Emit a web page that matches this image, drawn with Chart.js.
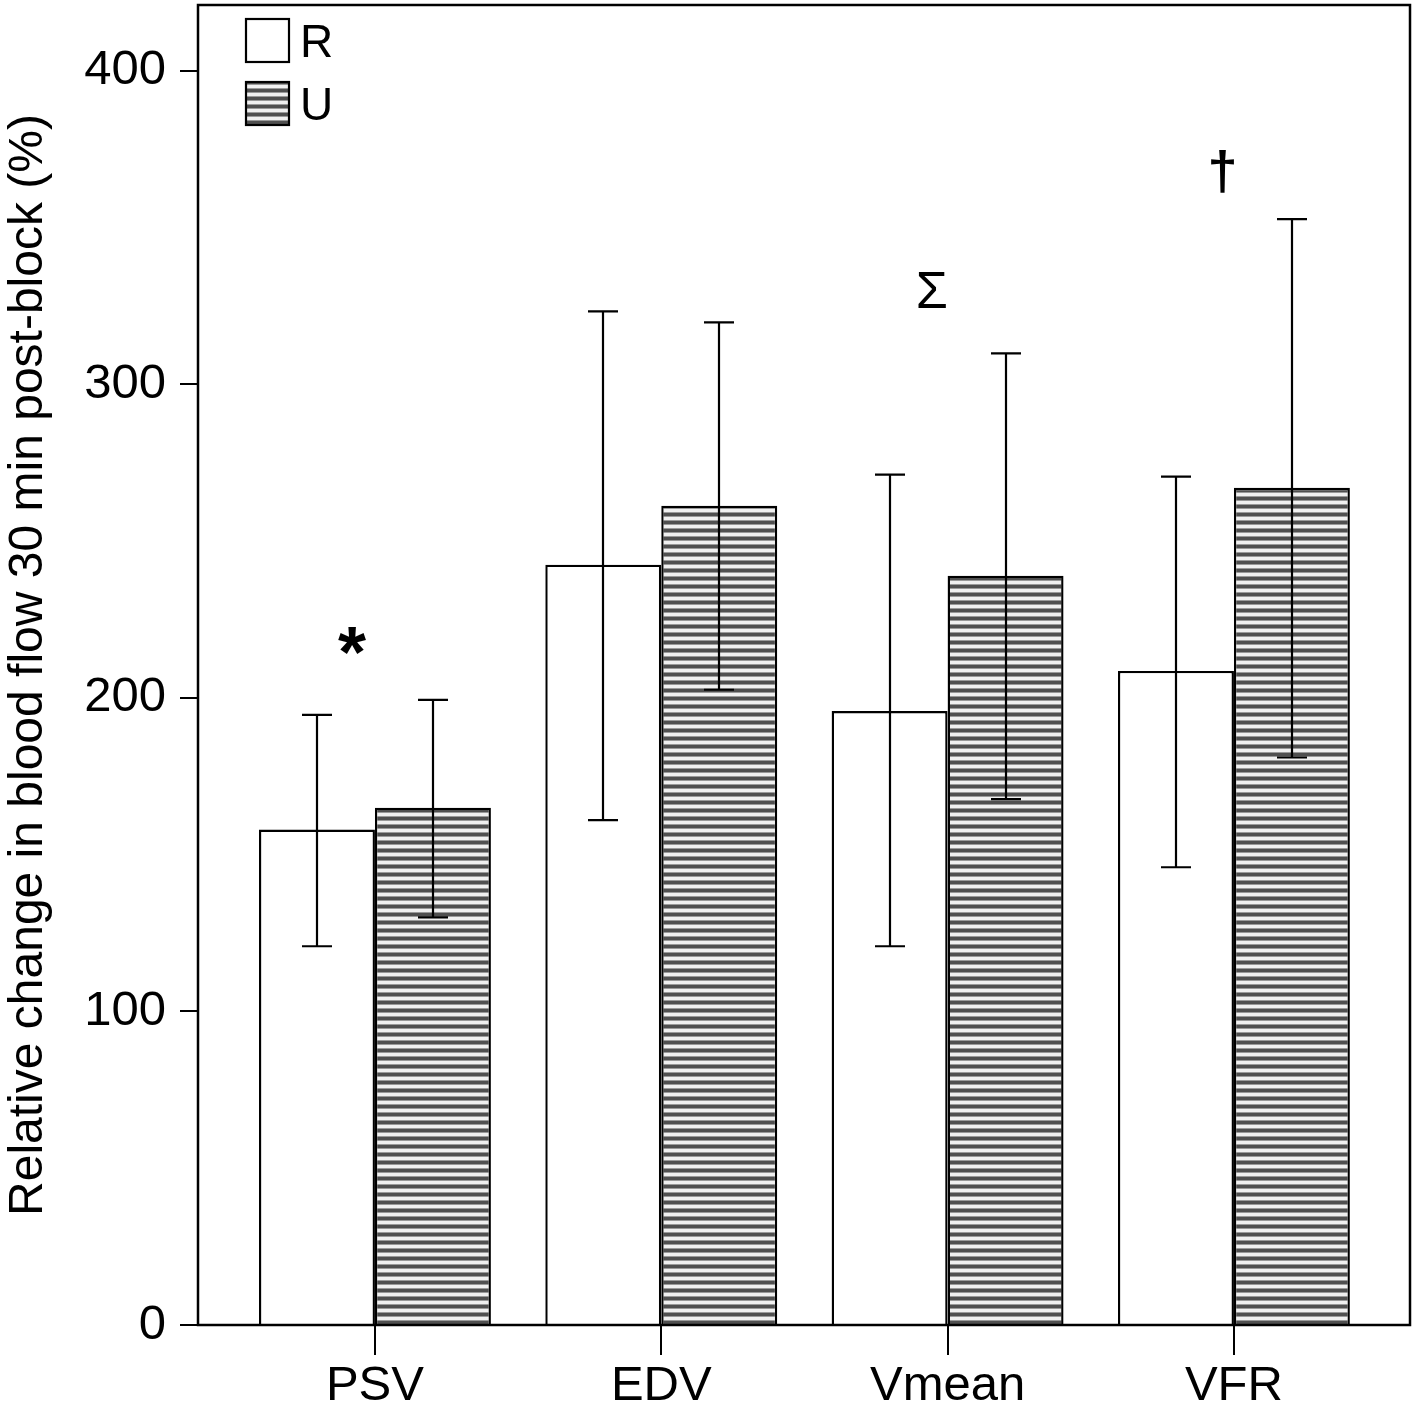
<!DOCTYPE html>
<html>
<head>
<meta charset="utf-8">
<script src="https://cdn.jsdelivr.net/npm/chart.js@4.4.0/dist/chart.umd.min.js"></script>
<style>
  html, body { margin: 0; padding: 0; background: #fff; }
  #wrap { width: 1418px; height: 1413px; position: relative; }
</style>
</head>
<body>
<div id="wrap"><canvas id="blood-flow-chart"></canvas></div>
<script>
// Chart data
var categories = ['PSV', 'EDV', 'Vmean', 'VFR'];
var meanR = [158, 242.5, 195.8, 208.6];
var meanU = [165, 261.3, 239, 267];
var upperR = [194.6, 323.3, 271.2, 270.6];
var lowerR = [120.8, 161, 120.8, 146];
var upperU = [199.4, 319.8, 309.9, 352.7];
var lowerU = [130, 202.6, 167.7, 181];
var yTicks = [0, 100, 200, 300, 400];
// significance marks: symbol, category index, value
var marks = [['*', 0, 217], ['\u03A3', 2, 329], ['\u2020', 3, 367]];

var FONT = "'Liberation Sans', Arial, sans-serif";

// horizontal hatch for the U bars
function makeHatch() {
    var c = document.createElement('canvas');
    c.width = 8; c.height = 8;
    var g = c.getContext('2d');
    g.fillStyle = '#f0f0f0';
    g.fillRect(0, 0, 8, 8);
    g.fillStyle = '#9a9a9a';
    g.fillRect(0, 0, 8, 5);
    g.fillStyle = '#505050';
    g.fillRect(0, 1, 8, 3);
    return g.createPattern(c, 'repeat');
}
var hatch = makeHatch();

function toPoints(arr) {
    return arr.map(function (v, i) { return { x: i + 1, y: v }; });
}

function noPad(s) {
    s.paddingTop = 0; s.paddingBottom = 0;
    s.paddingLeft = 0; s.paddingRight = 0;
}

// error bars, frame, marks and legend
var extras = {
    id: 'extras',
    afterDatasetsDraw: function (chart) {
        var c = chart.ctx, xs = chart.scales.x, ys = chart.scales.y, a = chart.chartArea;
        c.save();
        c.strokeStyle = '#000';
        c.lineWidth = 2.2;
        [[upperR, lowerR, 0], [upperU, lowerU, 1]].forEach(function (set) {
            var meta = chart.getDatasetMeta(set[2]);
            meta.data.forEach(function (bar, i) {
                var x = Math.round(bar.x);
                var t = ys.getPixelForValue(set[0][i]);
                var b = ys.getPixelForValue(set[1][i]);
                c.beginPath();
                c.moveTo(x, t); c.lineTo(x, b);
                c.moveTo(x - 15, t); c.lineTo(x + 15, t);
                c.moveTo(x - 15, b); c.lineTo(x + 15, b);
                c.stroke();
            });
        });
        // frame
        c.lineWidth = 2.5;
        c.strokeRect(a.left, a.top, a.right - a.left, a.bottom - a.top);
        // marks
        c.fillStyle = '#000';
        c.textAlign = 'center';
        c.textBaseline = 'middle';
        var offs = [-0.08, -0.055, -0.04];
        var fonts = ['bold 72px ', '52px ', 'bold 54px '];
        var dy = [13, 0, 0];
        marks.forEach(function (m, k) {
            var x = xs.getPixelForValue(m[1] + 1 + offs[k]);
            var y = ys.getPixelForValue(m[2]);
            c.font = fonts[k] + FONT;
            c.fillText(m[0], x, y + dy[k]);
        });
        // legend
        var lx = a.left + 48, ly = a.top + 14;
        chart.data.datasets.forEach(function (ds, i) {
            var y = ly + i * 63;
            c.fillStyle = ds.backgroundColor;
            c.fillRect(lx, y, 43, 43);
            c.lineWidth = 2.2;
            c.strokeStyle = '#000';
            c.strokeRect(lx, y, 43, 43);
            c.fillStyle = '#000';
            c.textAlign = 'left';
            c.font = '46px ' + FONT;
            c.fillText(ds.label, lx + 54, y + 25);
        });
        c.restore();
    }
};

var ctx = document.getElementById('blood-flow-chart');

var config = {
    type: 'bar',
    data: {
        datasets: [{
            label: 'R',
            data: toPoints(meanR),
            backgroundColor: '#ffffff',
            borderColor: '#000',
            borderWidth: 2.4
        }, {
            label: 'U',
            data: toPoints(meanU),
            backgroundColor: hatch,
            borderColor: '#000',
            borderWidth: 2.4
        }]
    },
    options: {
        responsive: true,
        maintainAspectRatio: false,
        animation: false,
        layout: { padding: { top: 5, right: 8, left: 0, bottom: 0 } },
        plugins: { legend: { display: false }, tooltip: { enabled: false } },
        datasets: { bar: { categoryPercentage: 0.81, barPercentage: 1.0 } },
        scales: {
            x: {
                type: 'linear',
                min: 0.382,
                max: 4.615,
                offset: false,
                afterBuildTicks: function (s) {
                    s.ticks = categories.map(function (c, i) { return { value: i + 1 }; });
                },
                afterFit: function (s) { s.height = 88; noPad(s); },
                grid: { drawOnChartArea: false, offset: false, color: '#000', lineWidth: 2, tickLength: 30 },
                border: { display: false },
                ticks: {
                    color: '#000',
                    font: { family: FONT, size: 49 },
                    padding: 2,
                    maxRotation: 0,
                    autoSkip: false,
                    callback: function (v) { return categories[v - 1]; }
                }
            },
            y: {
                min: 0,
                max: 421,
                afterBuildTicks: function (s) {
                    s.ticks = yTicks.map(function (v) { return { value: v }; });
                },
                afterFit: function (s) { s.width = 198; noPad(s); },
                grid: { drawOnChartArea: false, color: '#000', lineWidth: 2, tickLength: 18 },
                border: { display: false },
                ticks: {
                    color: '#000',
                    font: { family: FONT, size: 49 },
                    padding: 14
                },
                title: {
                    display: true,
                    text: 'Relative change in blood flow 30 min post-block (%)',
                    color: '#000',
                    font: { family: FONT, size: 48 },
                    padding: 0
                }
            }
        }
    },
    plugins: [extras]
};

var bloodFlowChart = new Chart(ctx, config);
</script>
</body>
</html>
